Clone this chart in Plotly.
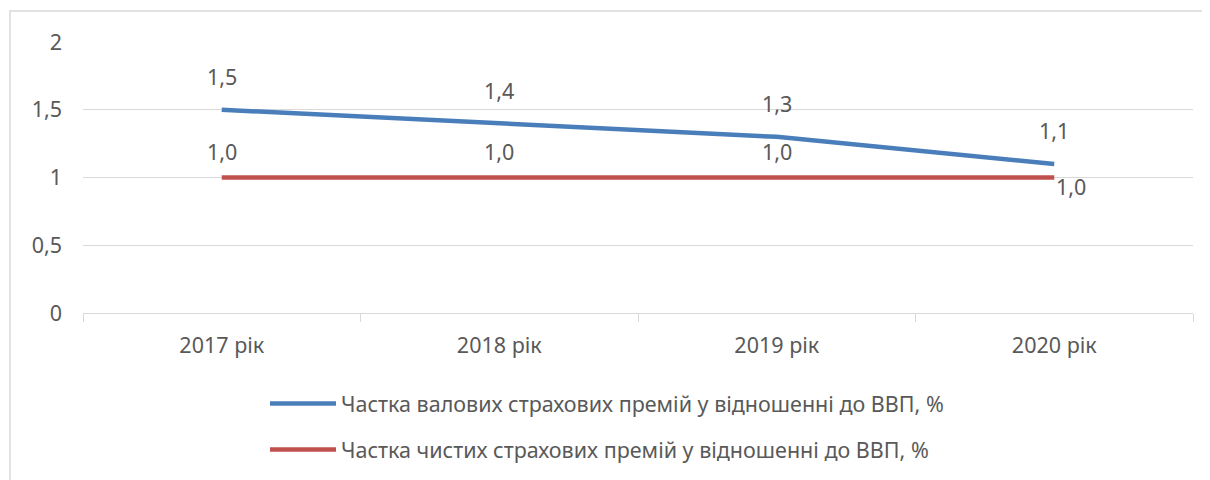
import plotly.graph_objects as go

categories = ["2017 рік", "2018 рік", "2019 рік", "2020 рік"]
gross_share = [1.5, 1.4, 1.3, 1.1]
net_share = [1.0, 1.0, 1.0, 1.0]
gross_labels = ["1,5", "1,4", "1,3", "1,1"]
net_labels = ["1,0", "1,0", "1,0", "1,0"]
y_ticks = [0, 0.5, 1, 1.5, 2]
y_tick_text = ["0", "0,5", "1", "1,5", "2"]
series_names = ["Частка валових страхових премій у відношенні до ВВП, %",
                "Частка чистих страхових премій у відношенні до ВВП, %"]

FONT = "Noto Sans, sans-serif"
FS = 21.5
TXT = "#595959"
GRID = "#d9d9d9"
BLUE = "#4a7ebb"
RED = "#c0504d"

OFF = 8  # page body margin
W, H = 1210 - OFF, 480 - OFF
L, R, T, B = 83 - OFF, 17, 42 - OFF, 167
pw, ph = W - L - R, H - T - B

fig = go.Figure()
fig.add_trace(go.Scatter(x=categories, y=gross_share, mode="lines", name=series_names[0],
                         line=dict(color=BLUE, width=4.5), legendgroup="a"))
fig.add_trace(go.Scatter(x=categories, y=net_share, mode="lines", name=series_names[1],
                         line=dict(color=RED, width=4.5), legendgroup="b"))

ann = []
for c, v, t in zip(categories, gross_share, gross_labels):
    ann.append(dict(x=c, y=v, text=t, showarrow=False, yshift=33, xref="x", yref="y",
                    font=dict(family=FONT, size=FS, color=TXT)))
for i, (c, v, t) in enumerate(zip(categories, net_share, net_labels)):
    if i < 3:
        ann.append(dict(x=c, y=v, text=t, showarrow=False, yshift=26, xref="x", yref="y",
                        font=dict(family=FONT, size=FS, color=TXT)))
    else:
        ann.append(dict(x=c, y=v, text=t, showarrow=False, yshift=-9, xshift=0, xanchor="left",
                        xref="x", yref="y", font=dict(family=FONT, size=FS, color=TXT)))

# screen pixel -> paper coords
def px_x(p):
    return (p - OFF - L) / pw

def px_y(p):
    return (H - B - (p - OFF)) / ph

fig.update_layout(
    width=W, height=H,
    margin=dict(l=L, r=R, t=T, b=B, autoexpand=False),
    paper_bgcolor="white", plot_bgcolor="white",
    font=dict(family=FONT, size=FS, color=TXT),
    annotations=ann,
    showlegend=True,
    legend=dict(xref="container", yref="container", x=(265 - OFF) / W, y=1 - (383 - OFF) / H,
                xanchor="left", yanchor="top", itemwidth=66,
                font=dict(family=FONT, size=FS, color=TXT), tracegroupgap=15,
                bgcolor="rgba(0,0,0,0)"),
    shapes=[dict(type="rect", xref="paper", yref="paper",
                 x0=px_x(10), x1=px_x(1220), y0=px_y(490), y1=px_y(11),
                 line=dict(color="#d9d9d9", width=1.5), fillcolor="rgba(0,0,0,0)", layer="below")],
    xaxis=dict(type="category", range=[-0.5, 3.5], showgrid=False, showline=True,
               linecolor=GRID, linewidth=1, ticks="outside", tickson="boundaries",
               ticklen=8, tickcolor=GRID, tickfont=dict(family=FONT, size=FS, color=TXT),
               ticklabelstandoff=13, zeroline=False),
    yaxis=dict(range=[0, 2], tickvals=y_ticks, ticktext=y_tick_text, showgrid=True,
               gridcolor=GRID, gridwidth=1, zeroline=False, showline=False, ticks="",
               tickfont=dict(family=FONT, size=FS, color=TXT), ticklabelstandoff=20),
)

fig.write_html("out.html")
